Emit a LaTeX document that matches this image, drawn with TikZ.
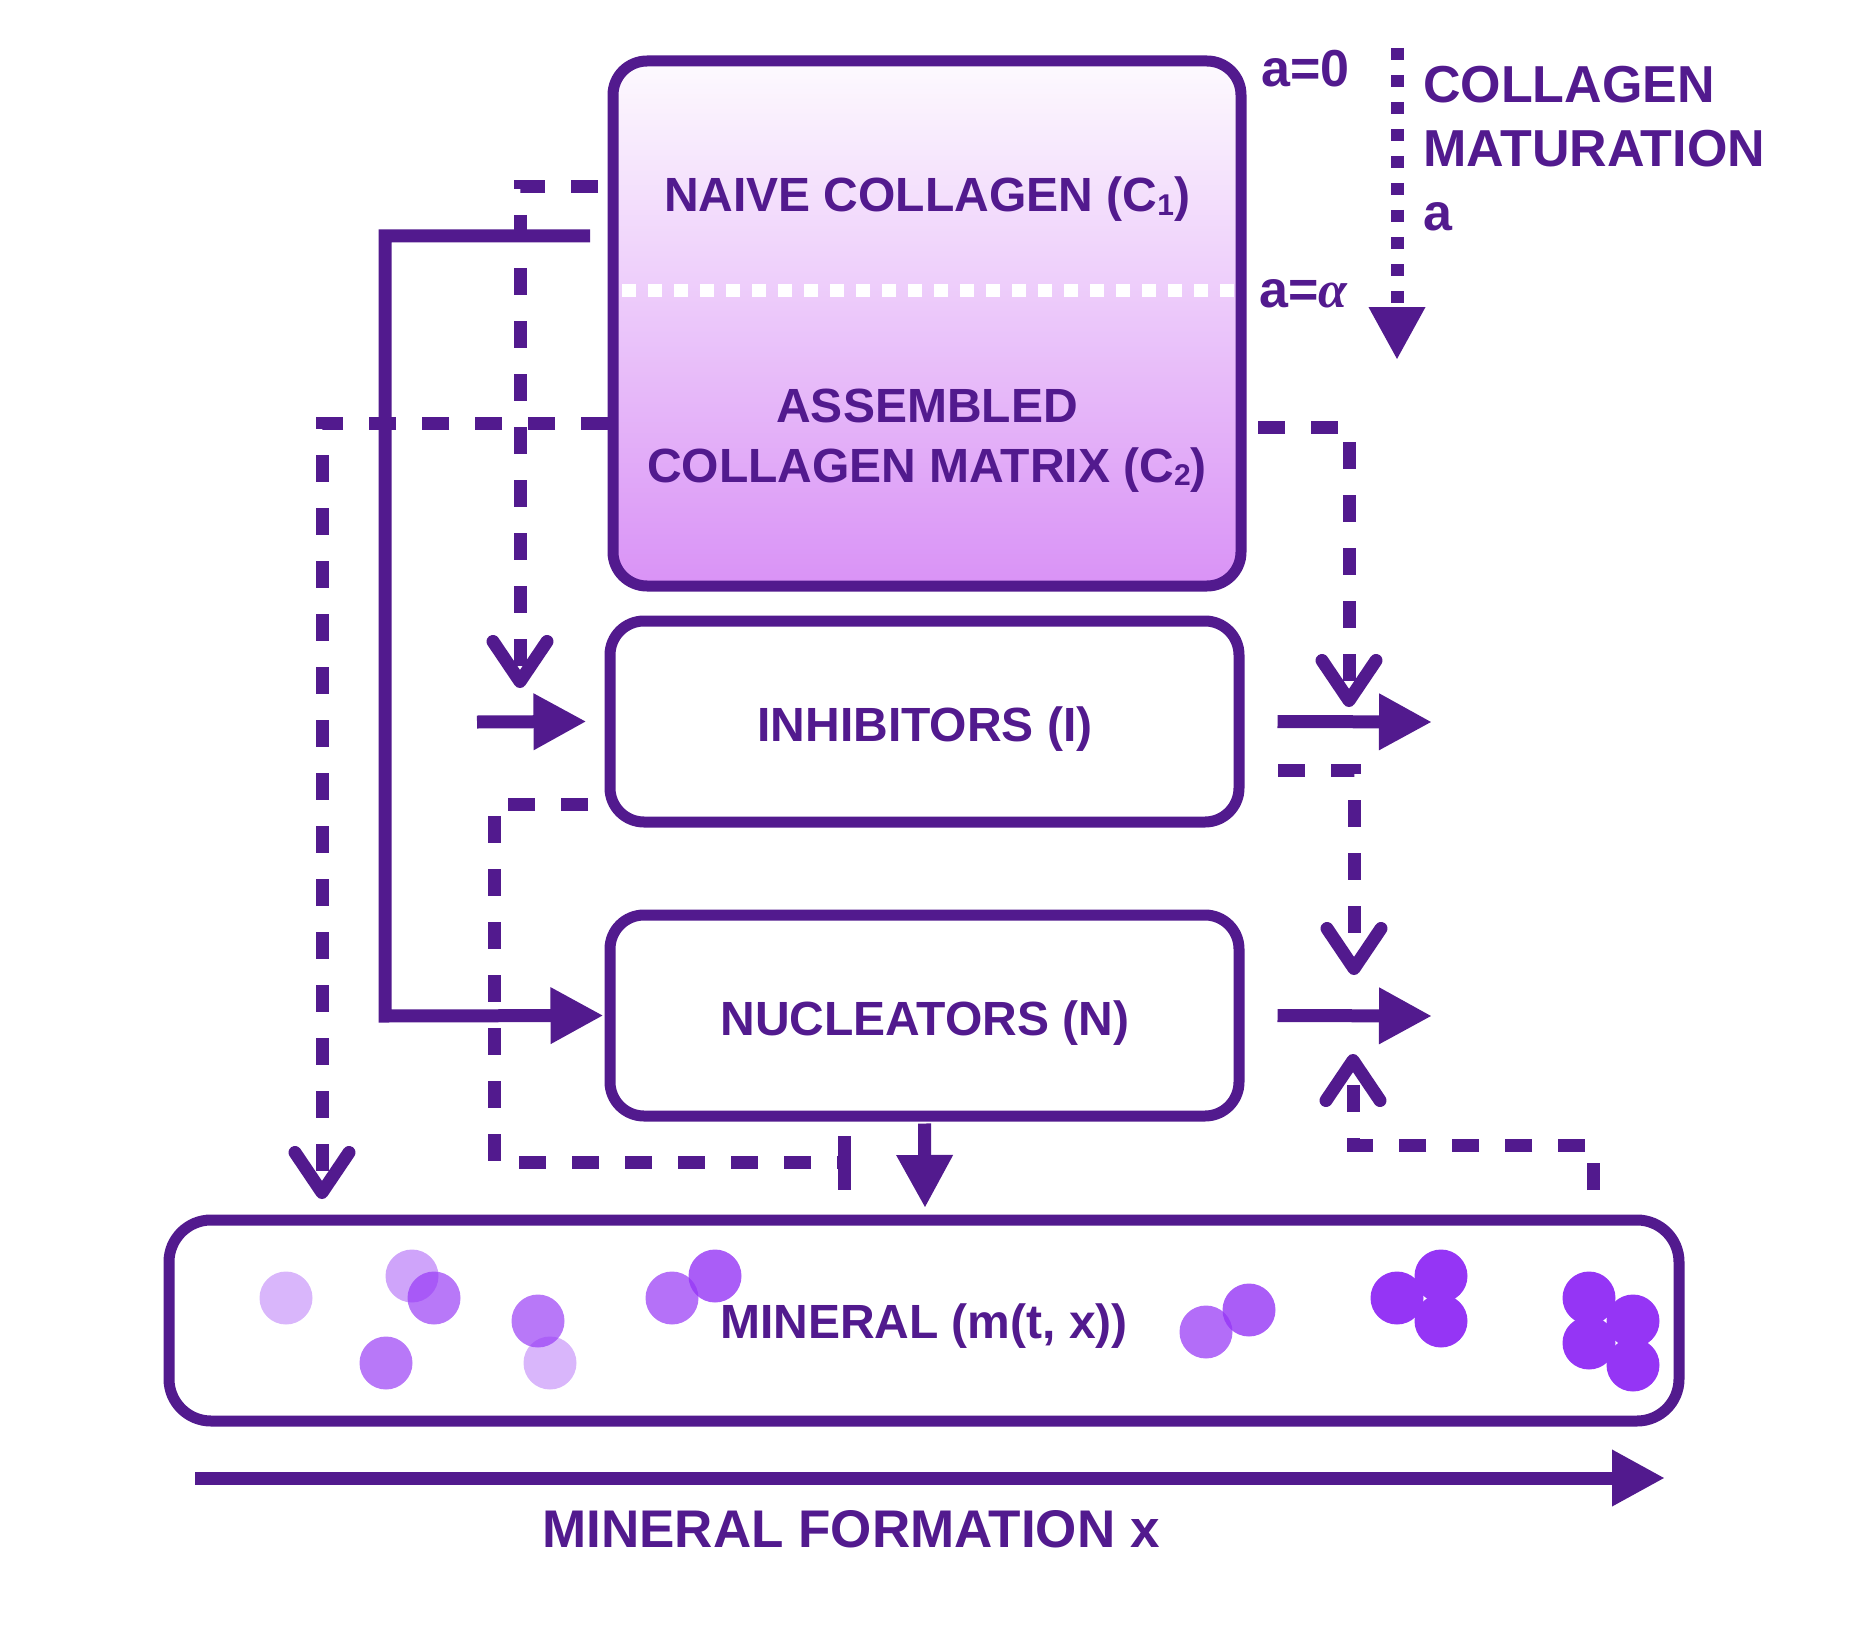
\documentclass[tikz,border=0pt]{standalone}
\usepackage{fontspec}
\setmainfont{Liberation Sans}
\newfontfamily\greekserif{Liberation Serif}
\usetikzlibrary{arrows.meta}
\definecolor{pp}{HTML}{521A8E}
\definecolor{gtop}{HTML}{FDFAFE}
\definecolor{gbot}{HTML}{D992F6}
\definecolor{dotc}{HTML}{9535F5}
\newcommand{\subdig}[1]{\raisebox{-3pt}{\fontsize{30}{30}\selectfont #1}}
\begin{document}
\begin{tikzpicture}[x=1pt,y=-1pt,
  box/.style={draw=pp, line width=11pt, rounded corners=34pt, inner sep=0pt},
  lbl/.style={text=pp, font=\fontsize{48}{60}\selectfont\bfseries, anchor=base, inner sep=0pt},
  side/.style={text=pp, font=\fontsize{52}{64}\selectfont\bfseries, anchor=base west, inner sep=0pt},
  conn/.style={draw=pp, line width=13pt},
  dsh/.style={conn, dash pattern=on 27pt off 26pt},
  tri/.style={-{Triangle[length=53pt,width=53pt]}},
  barb/.style={-{Straight Barb[length=40pt,width=54pt,round]}},
  grain/.style={circle, fill=dotc, minimum size=53pt, inner sep=0pt}
]
\useasboundingbox (0,0) rectangle (1858,1648);

% boxes
\node[box, top color=gtop, bottom color=gbot, minimum width=628pt, minimum height=525pt] (C) at (927,323.5) {};
\draw[white, line width=13pt, dash pattern=on 14pt off 12pt] (622,290) -- (1234,290);
\node[lbl] (c1) at (927,212) {NAIVE COLLAGEN (C\subdig{1})};
\node[lbl] (c2a) at (927,422) {ASSEMBLED};
\node[lbl] (c2b) at (927,482) {COLLAGEN MATRIX (C\subdig{2})};

\node[box, minimum width=629pt, minimum height=201pt] (I) at (924.5,721.5) {};
\node[lbl] (il) at (925,741) {INHIBITORS (I)};
\node[box, minimum width=629pt, minimum height=201pt] (N) at (924.5,1015.5) {};
\node[lbl] (nl) at (925,1035) {NUCLEATORS (N)};
\node[box, rounded corners=42pt, minimum width=1510pt, minimum height=201pt] (M) at (924,1320.5) {};

% mineral grains
\node[grain, fill opacity=0.36] (g1) at (286,1298) {};
\node[grain, fill opacity=0.45] (g2) at (412,1276) {};
\node[grain, fill opacity=0.67] (g3) at (434,1298) {};
\node[grain, fill opacity=0.67] (g4) at (386,1363) {};
\node[grain, fill opacity=0.67] (g5) at (538,1321) {};
\node[grain, fill opacity=0.36] (g6) at (550,1363) {};
\node[grain, fill opacity=0.7] (g7) at (672,1298) {};
\node[grain, fill opacity=0.8] (g8) at (715,1276) {};
\node[grain, fill opacity=0.72] (g9) at (1206,1332) {};
\node[grain, fill opacity=0.8] (g10) at (1249,1310) {};
\node[grain] (g11) at (1397,1298) {};
\node[grain] (g12) at (1441,1276) {};
\node[grain] (g13) at (1441,1321) {};
\node[grain] (g14) at (1589,1298) {};
\node[grain] (g15) at (1633,1321) {};
\node[grain] (g16) at (1589,1343) {};
\node[grain] (g17) at (1633,1365) {};
\node[lbl] (mt) at (924,1338) {MINERAL (m(t, x))};

% free ends
\coordinate (c1a) at (598,187);
\coordinate (c1b) at (590,236);
\coordinate (c2a) at (608,423);
\coordinate (c2b) at (1258,427);
\coordinate (iin) at (477,722);
\coordinate (ia) at (588,804);
\coordinate (ib) at (1278,770);
\coordinate (iout) at (1432,722);
\coordinate (nout) at (1432,1016);
\coordinate (ma) at (844,1162);
\coordinate (mb) at (1593,1190);
\coordinate (mat0) at (1397,48);
\coordinate (mat1) at (1397,360);
\coordinate (x0) at (195,1478);
\coordinate (x1) at (1665,1478);

% connectors
\draw[conn, tri] (c1b) -- (385,236) -- (385,1016) -- ([xshift=-1pt]N.west);
\draw[conn, tri] (iin) -- ([xshift=-18pt]I.west);
\draw[dsh, barb] (c1a) -- (520,187) -- (520,688);
\draw[dsh, barb] (c2a) -- (322,423) -- (322,1199);
\draw[dsh] (ia) -- (494,804) -- (494,1162) -- (ma);
\draw[conn] (844,1136) -- (844,1190);
\draw[conn, tri] ([yshift=-2pt]N.south) -- (925,1208);
\draw[dsh, barb] (c2b) -- (1349,427) -- (1349,707);
\draw[conn, tri] ([xshift=33pt]I.east) -- (iout);
\draw[dsh, barb] (ib) -- (1354,770) -- (1354,975);
\draw[conn, tri] ([xshift=33pt]N.east) -- (nout);
\draw[dsh, barb] (mb) -- (1593,1145) -- (1353,1145) -- (1353,1054);
\draw[conn, tri, dash pattern=on 12pt off 15pt] (mat0) -- (mat1);
\draw[conn, tri] (x0) -- (x1);

% side labels
\node[side] (a0) at (1261,87) {a=0};
\node[side] (aal) at (1259,307) {a={\greekserif\itshape α}};
\node[side] (m1) at (1423,103) {COLLAGEN};
\node[side] (m2) at (1423,167) {MATURATION};
\node[side] (m3) at (1423,231) {a};
\node[text=pp, font=\fontsize{53}{64}\selectfont\bfseries, anchor=base, inner sep=0pt] (mf) at (851,1547) {MINERAL FORMATION x};
\end{tikzpicture}
\end{document}
